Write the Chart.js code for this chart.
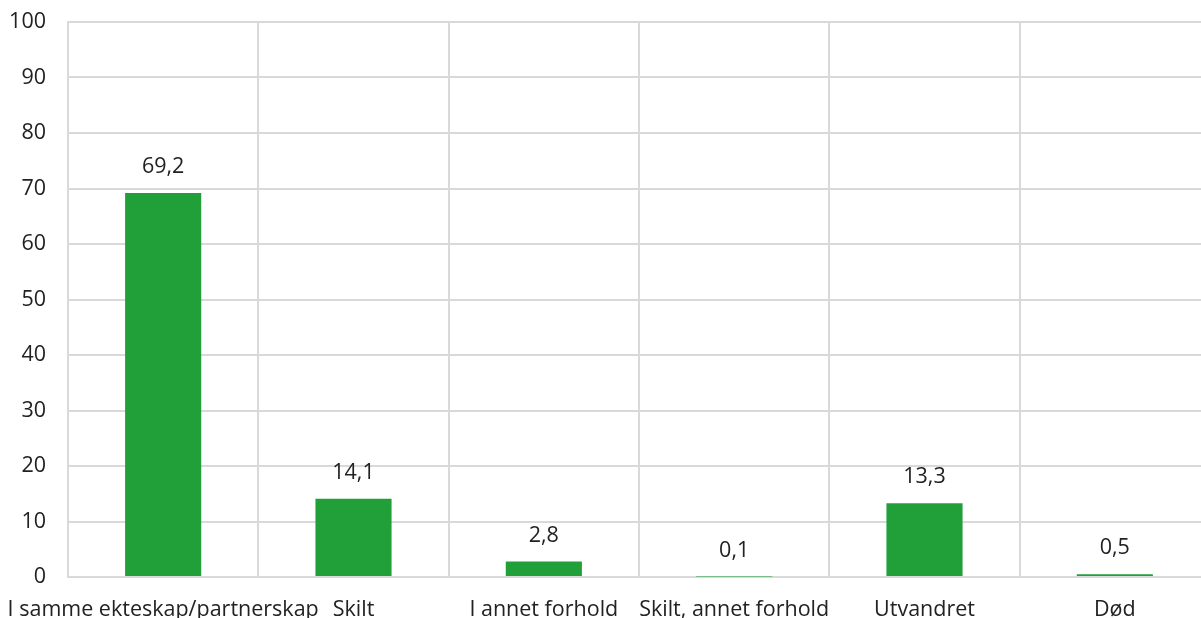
<!DOCTYPE html>
<html lang="no">
<head>
    <meta charset="UTF-8">
    <title>Status</title>
    <style>
        html, body { margin: 0; padding: 0; overflow: hidden; background: #fff; }
        #wrap { width: 1210px; height: 640px; }
    </style>
</head>
<body>
    <div id="wrap">
        <canvas id="barChart" width="1210" height="640"></canvas>
    </div>
    <script src="https://cdn.jsdelivr.net/npm/chart.js"></script>
    <script>
        // Data
        const categories = ['I samme ekteskap/partnerskap', 'Skilt', 'I annet forhold', 'Skilt, annet forhold', 'Utvandret', 'Død'];
        const values = [69.2, 14.1, 2.8, 0.1, 13.3, 0.5];
        const yTicks = [0, 10, 20, 30, 40, 50, 60, 70, 80, 90, 100];

        const textColor = '#222222';
        const gridColor = '#d9d9d9';
        const barColor = '#21a03a';
        const fontSize = 21.5;

        // Draw the value above each bar, with comma as decimal mark
        const valueLabels = {
            id: 'valueLabels',
            afterDatasetsDraw(chart) {
                const ctx = chart.ctx;
                const meta = chart.getDatasetMeta(0);
                ctx.save();
                ctx.font = fontSize + 'px "Open Sans"';
                ctx.fillStyle = textColor;
                ctx.textAlign = 'center';
                ctx.textBaseline = 'middle';
                meta.data.forEach((bar, i) => {
                    const txt = values[i].toFixed(1).replace('.', ',');
                    ctx.fillText(txt, bar.x, bar.y - 26);
                });
                ctx.restore();
            }
        };

        const ctx = document.getElementById('barChart').getContext('2d');
        new Chart(ctx, {
            type: 'bar',
            data: {
                labels: categories,
                datasets: [{
                    data: values,
                    backgroundColor: barColor,
                    borderWidth: 0,
                    categoryPercentage: 1.0,
                    barPercentage: 0.4
                }]
            },
            options: {
                responsive: false,
                animation: false,
                layout: { padding: { top: 22, left: 0, right: 0, bottom: 0 } },
                plugins: {
                    legend: { display: false },
                    tooltip: { enabled: false }
                },
                scales: {
                    x: {
                        grid: { color: gridColor, lineWidth: 2, drawTicks: false, offset: true },
                        border: { display: true, color: gridColor, width: 2 },
                        ticks: {
                            color: textColor,
                            font: { family: 'Open Sans', size: fontSize },
                            padding: 20,
                            maxRotation: 0,
                            minRotation: 0,
                            autoSkip: false
                        },
                        afterFit(scale) {
                            scale.height = 63;
                            scale.paddingLeft = 0;
                            scale.paddingRight = 0;
                        }
                    },
                    y: {
                        min: 0,
                        max: 100,
                        afterBuildTicks(scale) {
                            scale.ticks = yTicks.map(v => ({ value: v }));
                        },
                        grid: { color: gridColor, lineWidth: 2, drawTicks: false },
                        border: { display: true, color: gridColor, width: 2 },
                        ticks: {
                            color: textColor,
                            font: { family: 'Open Sans', size: fontSize },
                            padding: 22
                        },
                        afterFit(scale) {
                            scale.width = 68;
                            scale.paddingTop = 0;
                            scale.paddingBottom = 0;
                        }
                    }
                }
            },
            plugins: [valueLabels]
        });
    </script>
</body>
</html>
